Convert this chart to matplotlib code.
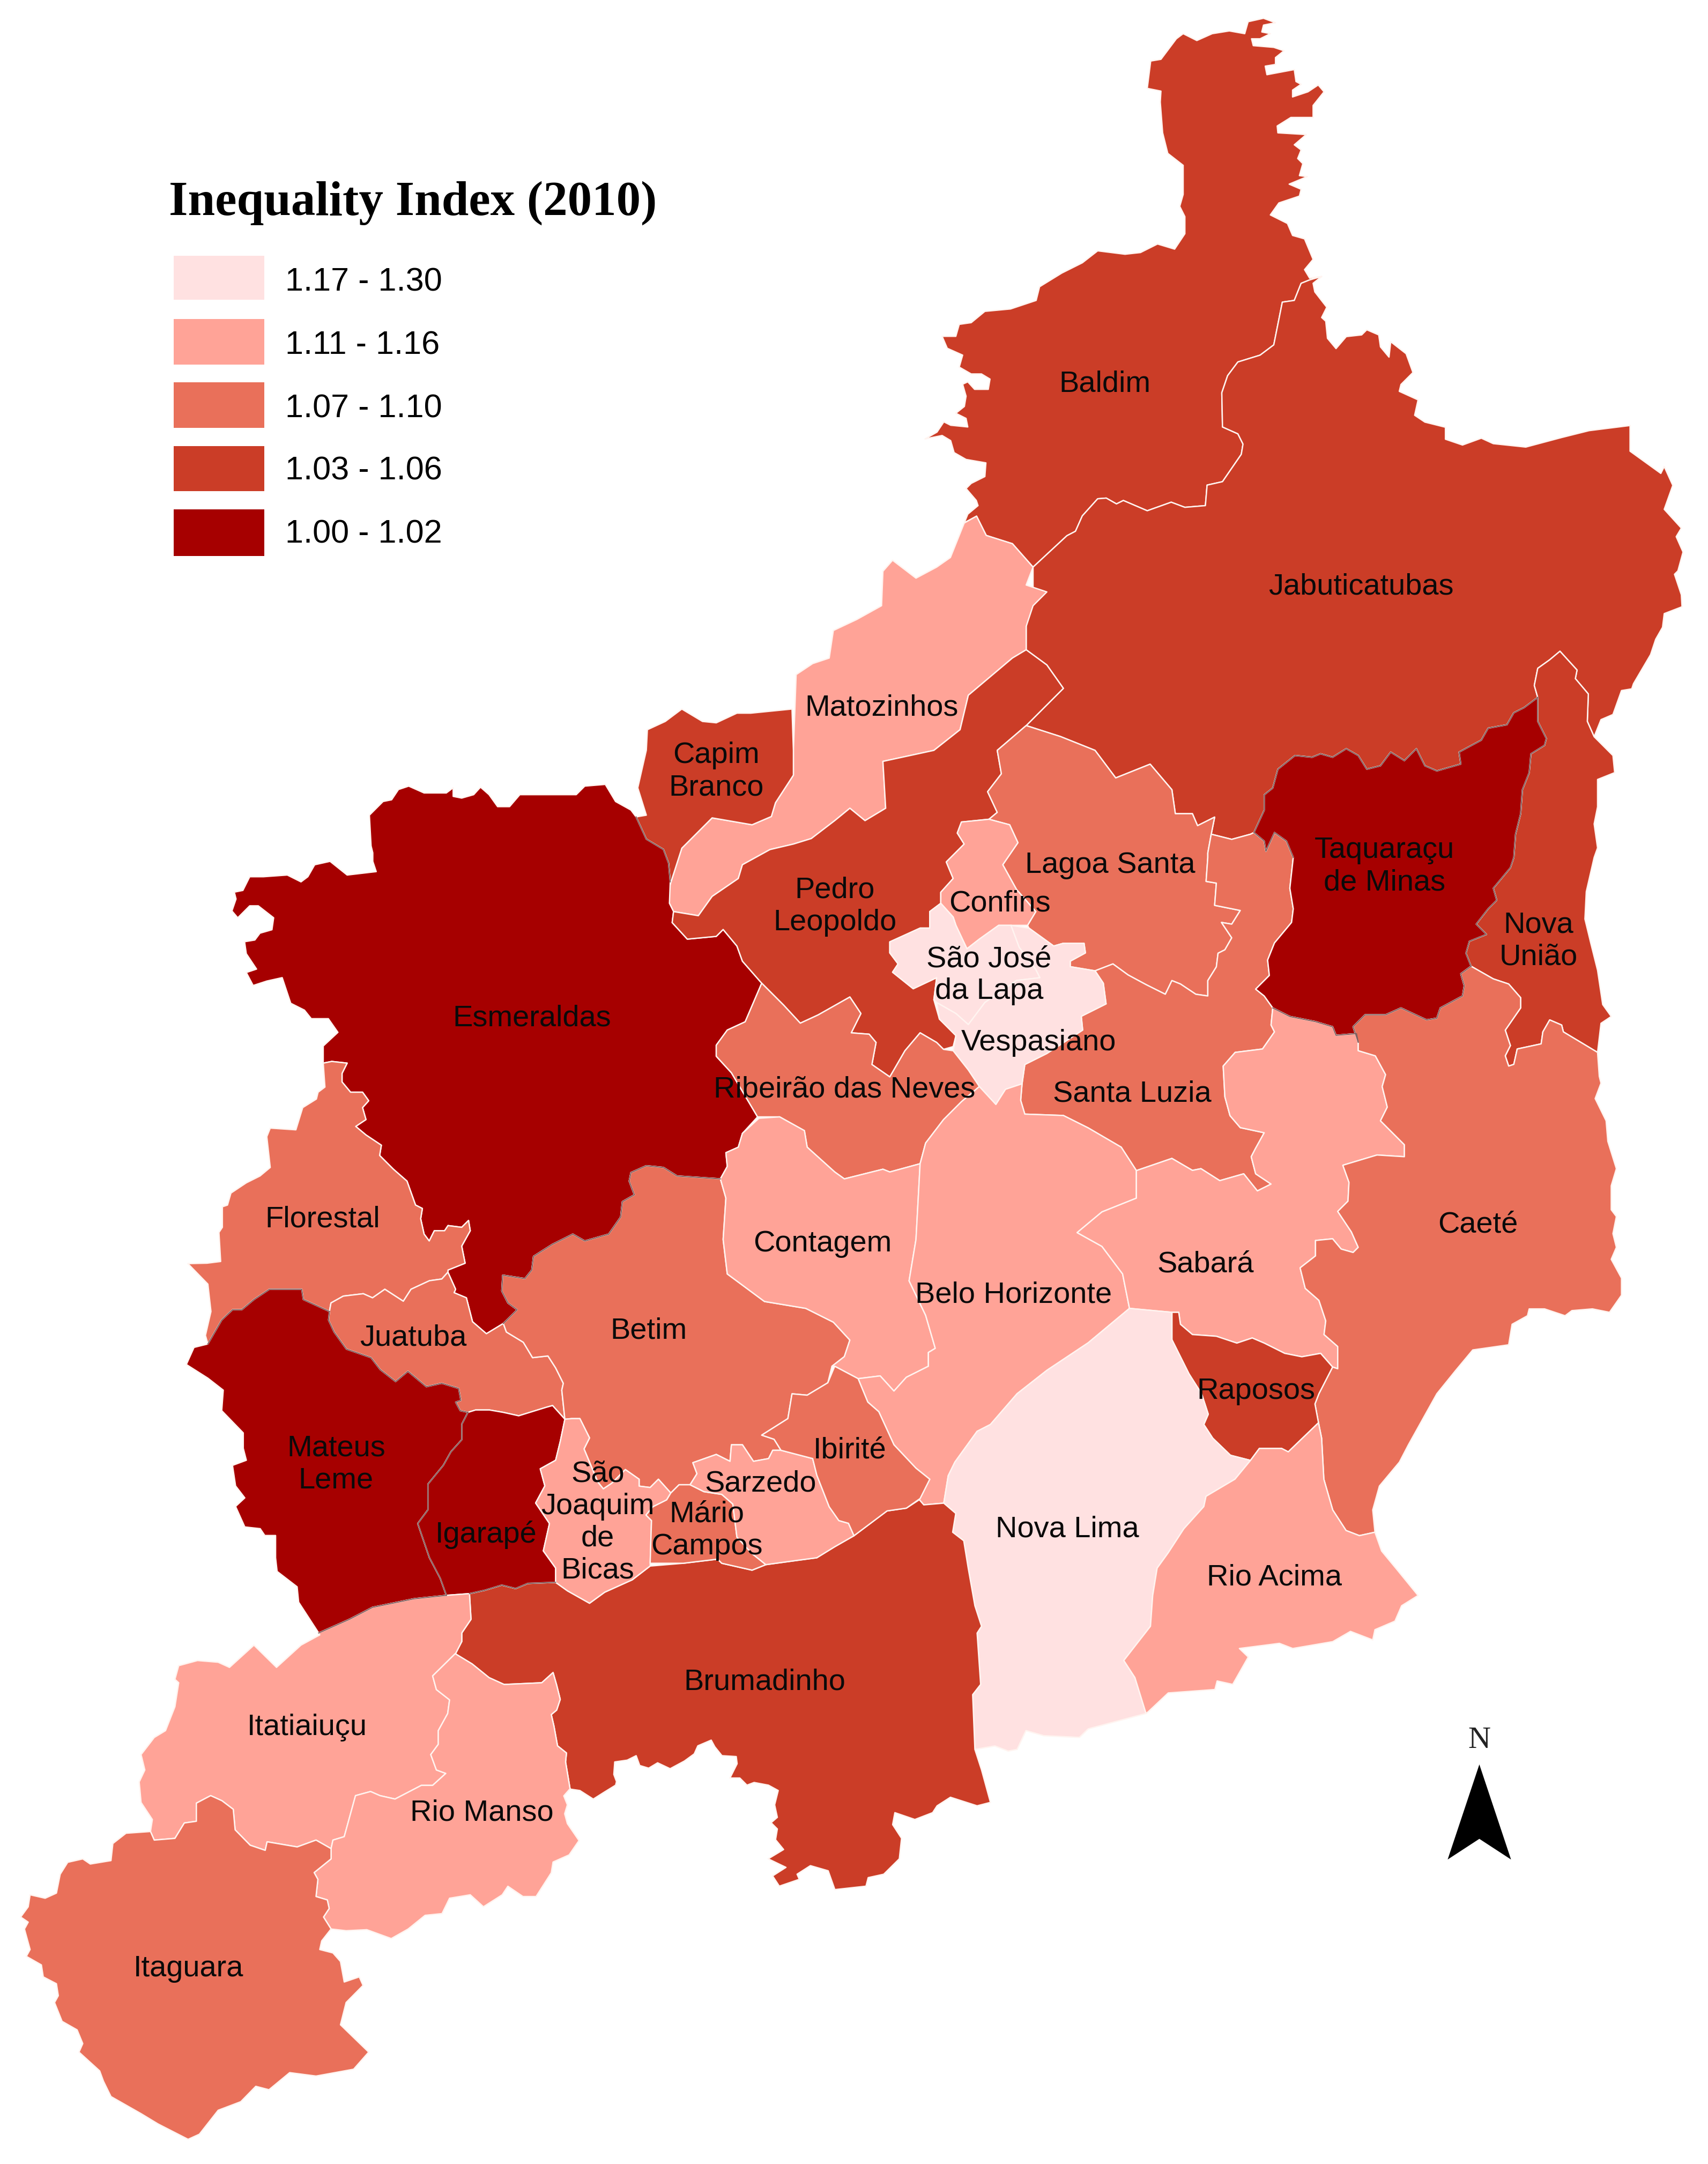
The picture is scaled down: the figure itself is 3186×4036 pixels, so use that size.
#!/usr/bin/env python3
import matplotlib
matplotlib.use("Agg")
import matplotlib.pyplot as plt
from matplotlib.patches import Polygon, Rectangle

# The map is in units of a 1240 wide sketch of the picture (x right, y down).
SCALE = 3186 / 1240


def crop(origin, pts):
    x0, y0, sx, sy = origin
    return [((x0 + a / sx) / SCALE, (y0 + b / sy) / SCALE) for a, b in pts]


def rev(arc):
    return arc[::-1]


A = (1700, 0, 1.568, 1.568)
B = (2186, 600, 1.568, 1.568)
C = (300, 1400, 1.568, 1.568)
D = (0, 3037, 1.425, 1.568)
E = (2186, 1600, 1.568, 1.568)
F = (1350, 2600, 1.206, 1.568)
G = (250, 2300, 1.742, 1.568)
H = (1000, 3000, 3.0, 3.0)

# shared border arcs
BALDIM_COAST = crop(A, [(155,1530),(165,1505),(195,1480),(190,1465),(160,1430),(175,1415),(215,1395),(218,1355),(160,1345),(125,1325),(115,1290),(90,1275),(40,1285),(75,1265),(95,1235),(115,1245),(165,1250),(160,1225),(130,1210),(155,1190),(160,1160),(150,1125),(165,1118),(185,1140),(225,1140),(230,1110),(205,1095),(175,1095),(140,1075),(150,1040),(105,1020),(90,985),(130,985),(140,950),(175,945),(215,912),(290,905),(365,880),(375,840),(440,800),(500,770),(545,735),(625,745),(670,740),(720,715),(770,730),(800,685),(800,635),(785,605),(795,570),(795,485),(750,450),(735,390),(728,300),(730,268),(690,260),(700,180),(730,175),(775,115),(795,100),(835,120),(880,100),(930,92),(975,100),(985,65),(1030,55),(1065,68),(1030,75),(1025,95),(1050,100),(1020,115),(995,115),(1000,135),(1060,140),(1090,150),(1065,170),(1065,190),(1035,195),(1040,220),(1120,205),(1125,240),(1140,248),(1115,265),(1115,285),(1160,270),(1190,250),(1207,270),(1175,310),(1175,345),(1110,345),(1070,370),(1072,390),(1155,395),(1120,425),(1140,440),(1130,465),(1145,480),(1135,515),(1158,518),(1105,540),(1140,555),(1135,575),(1075,595),(1050,630),(1100,655),(1115,690),(1150,700),(1175,760),(1150,790),(1165,815)])
BALDIM_JAB = crop(A, [(1200,810),(1165,820),(1140,830),(1120,880),(1085,885),(1070,960),(1060,1010),(1020,1040),(955,1060),(925,1100),(908,1150),(910,1250),(955,1270),(970,1300),(965,1330),(910,1410),(865,1420),(860,1480),(800,1485),(760,1470),(690,1495),(620,1465),(600,1475),(570,1458),(545,1460),(500,1510),(480,1555),(455,1568)]) + [(750,412)]
BALDIM_MATO = [(750,412),(735,395),(716,389),(709,375)]
JAB_COAST = crop(A, [(1200,810),(1175,830),(1180,855),(1215,900),(1200,930)]) + crop(B, [(450,0),(455,50),(480,80),(510,45),(555,40),(570,25),(605,40),(610,75),(635,105),(640,60),(685,95),(705,150),(670,185),(665,205),(720,230),(710,275),(740,295),(800,310),(800,345),(850,362),(905,342),(940,358),(1035,368),(1140,340),(1220,320),(1340,305),(1340,380),(1430,445),(1440,425),(1465,480),(1440,550),(1490,605),(1475,630),(1495,675),(1480,730),(1470,740),(1490,800),(1492,835),(1440,855),(1435,895),(1415,930),(1400,975),(1350,1060),(1345,1075),(1315,1080),(1290,1150),(1255,1165),(1235,1215)])
NOVA_JAB = crop(B, [(1235,1215),(1215,1170),(1218,1090),(1180,1045),(1185,1020),(1135,965),(1105,990),(1070,1015),(1060,1065),(1070,1100)])
TAQ_NORTH = crop(B, [(1070,1100),(1030,1130),(1000,1145),(980,1180),(925,1190),(905,1225),(840,1260),(845,1295),(775,1315),(740,1300),(715,1250),(680,1285),(640,1260),(610,1300),(570,1310),(545,1270),(510,1250),(470,1275),(435,1265),(410,1275),(360,1270),(310,1310),(295,1365),(270,1385),(270,1430),(240,1495)])
TAQ_WEST = crop(B, [(240,1495),(270,1520),(275,1550),(300,1495),(335,1520),(355,1568)]) + crop(E, [(345,90),(355,150),(350,190),(300,250),(280,300),(285,345),(245,385),(270,405),(295,440)])
TAQ_SOUTH = crop(E, [(295,440),(345,465),(420,480),(470,495),(480,520),(540,515),(545,540)])
TAQ_CAETE = crop(E, [(545,540),(530,495),(565,460),(625,460),(670,440),(745,475),(775,470),(785,440),(850,405),(855,375),(845,340),(875,318)])
TAQ_NOVA = crop(E, [(875,318),(860,280),(870,245),(920,225),(890,195),(925,150),(950,125),(940,90),(990,30),(1000,0)]) + crop(B, [(1005,1500),(1020,1440),(1025,1370),(1045,1320),(1050,1265),(1090,1240),(1095,1220),(1070,1170),(1070,1100)])
NOVA_CAETE = crop(E, [(875,318),(940,355),(985,370),(1020,410),(1020,440),(975,505),(990,550),(975,580),(985,610),(1000,605),(1010,560),(1080,545),(1085,510),(1105,475),(1140,490),(1145,510),(1245,570)])
NOVA_EAST = crop(B, [(1235,1215),(1290,1270),(1295,1320),(1245,1340),(1245,1420),(1235,1470),(1245,1540),(1235,1568)]) + crop(E, [(1212,100),(1208,180),(1225,250),(1245,330),(1260,430),(1285,465),(1255,485),(1245,570)])
CAETE_EAST = crop(E, [(1245,570),(1250,640),(1255,660),(1238,705),(1270,770),(1275,830),(1300,910),(1285,960),(1285,1030),(1300,1050),(1290,1100),(1300,1140),(1285,1175),(1315,1230),(1315,1280),(1280,1330),(1230,1320),(1170,1325),(1150,1340),(1090,1320),(1045,1320),(1040,1340),(995,1365),(985,1425),(880,1440),(830,1500),(775,1568)]) + crop(F, [(1540,150),(1520,200),(1475,270),(1460,340),(1465,405)])
CAETE_RIOACIMA = crop(F, [(1465,405),(1430,415),(1400,400),(1370,340),(1350,250),(1345,130),(1338,85)])
SABARA_CAETE = crop(E, [(545,540),(545,565),(595,580),(625,635),(615,670),(630,730),(610,770),(680,840),(680,875),(600,870),(500,900),(518,950),(515,1005),(485,1035),(525,1095),(545,1140),(530,1155),(495,1145),(470,1115),(420,1120),(420,1165),(375,1200),(390,1260),(430,1295),(450,1355),(445,1395),(485,1430),(485,1495)])
SABARA_RAPOSOS = crop(E, [(470,1490),(435,1450),(380,1460),(330,1450),(270,1420),(235,1405),(190,1420),(130,1400),(60,1395),(25,1365),(20,1330),(0,1330)])
RAPOSOS_EAST = crop(F, [(1338,85),(1330,30)]) + crop(E, [(430,1568),(470,1490)])
RAPOSOS_WEST = crop(E, [(0,1330),(0,1410),(50,1510)]) + crop(F, [(1075,0),(1090,60),(1080,90),(1100,130),(1140,180),(1185,195)])
RAPOSOS_RIOACIMA = crop(F, [(1185,195),(1205,160),(1255,160),(1270,170),(1338,85)])
SABARA_SL = crop(E, [(295,440),(290,490),(300,510),(265,560),(185,570),(150,610),(155,700),(170,755),(200,790),(270,805),(245,850),(232,875),(245,925),(290,955),(250,975),(210,925),(140,945),(85,910),(60,915),(0,880)])
SL_JAB = crop(B, [(240,1495),(230,1500),(175,1515),(115,1500)])
LAGOA_JAB = crop(B, [(115,1500),(125,1450),(75,1475),(60,1440),(10,1440),(0,1370)])
LAGOA_NW = [(745,527),(770,535),(795,545),(810,565),(835,555)] + crop(B, [(0,1370)])
LAGOA_SL = crop(B, [(115,1500),(105,1555)]) + crop(E, [(105,0),(100,70),(130,75),(125,140),(200,155),(175,195),(145,190),(175,235),(155,270),(135,280),(130,320),(105,360),(105,405),(70,400),(25,370),(0,360)])

NLIMA_BH = [(820,950),(790,975),(760,995)] + crop(F, [(660,0),(640,30),(600,90),(570,110),(520,200),(505,240),(495,320)])
NLIMA_RA = crop(F, [(1185,195),(1150,250),(1085,300),(1080,330),(1035,395),(1000,465),(975,510),(965,590),(960,680),(930,730),(900,780),(925,830),(950,935)])
NLIMA_SOUTH = crop(F, [(950,935),(820,980),(800,1005),(720,1000),(680,985),(660,1040),(640,1045),(610,1030),(565,1040)])
BRUM_NLIMA = crop(F, [(495,320),(522,350),(515,405),(540,430),(550,510),(565,620),(580,680),(570,700),(578,850),(560,880),(565,1040)])
RA_COAST = crop(F, [(1465,405),(1480,460),(1515,515),(1562,590),(1525,620),(1510,665),(1465,690),(1460,720),(1410,695),(1370,725),(1280,745),(1250,730),(1160,745),(1180,770),(1145,850),(1110,840),(1105,865),(1000,875),(955,930)])
BRUM_SOUTH_F = crop(F, [(565,1040),(580,1100),(600,1195),(570,1205),(510,1180),(480,1205),(470,1225),(430,1245),(385,1225),(380,1260),(400,1300),(395,1360),(360,1405),(325,1415),(320,1440),(250,1450),(235,1395),(195,1380),(165,1405),(170,1420),(125,1440),(110,1410),(140,1385),(100,1360)])
BRUM_SOUTH_H = crop(H, [(190,1012),(245,1020),(320,1068),(380,1030),(445,990),(450,970),(435,930),(440,860),(510,850),(560,825),(580,880),(630,895),(680,865),(750,898),(830,855),(885,815),(905,770),(980,738),(1000,775),(1040,825),(1120,830),(1125,870),(1085,950),(1140,950),(1180,990),(1220,975),(1300,990),(1355,1020),(1335,1100),(1350,1170),(1315,1200),(1350,1235),(1340,1295),(1385,1350)])

ESM_CAPIM = crop(C, [(1490,385),(1485,330),(1470,290),(1420,260),(1390,195)])
ESM_COAST = crop(C, [(1390,195),(1375,175),(1330,150),(1300,100),(1240,105),(1215,130),(1090,130),(1050,130),(1020,165),(985,165),(960,130),(935,108),(915,130),(880,140),(855,135),(855,110),(835,125),(770,125),(725,105),(695,115),(675,145),(650,150),(610,190),(615,280),(620,300),(620,325),(630,355),(545,365),(520,345),(495,325),(450,335),(430,370),(410,385),(370,365),(300,370),(260,370),(240,410),(215,415),(220,435),(208,470),(225,490),(260,455),(285,455),(330,490),(325,525),(290,535),(275,555),(245,560),(250,595),(280,640),(250,650),(270,688),(310,675),(355,665),(365,695),(380,740),(420,760),(440,785),(490,785),(518,825),(475,865),(475,915)])
ESM_FLOR = crop(C, [(475,915),(500,910),(545,915),(530,945),(530,970),(555,1000),(590,1000),(608,1025),(590,1045),(600,1080),(570,1100),(600,1125),(645,1155),(640,1185),(680,1225),(720,1260),(745,1330),(765,1340),(760,1370),(770,1415),(785,1435),(800,1405),(830,1405),(840,1390),(880,1395),(900,1375),(905,1405),(880,1450),(890,1500),(840,1520)])
ESM_JUA = crop(G, [(1020,115),(1045,165),(1040,175),(1080,190),(1100,260),(1145,295),(1200,265)])
ESM_BETIM = [(523,856)] + crop(C, [(1510,1245),(1470,1220),(1420,1215),(1375,1235),(1370,1260),(1385,1300),(1350,1320),(1345,1365),(1310,1415),(1240,1435),(1205,1415),(1145,1445),(1090,1480),(1085,1520),(1065,1545),(1000,1535)]) + crop(G, [(1195,170),(1215,205),(1245,225),(1200,265)])
ESM_EAST = [(523,856),(528,847),(527,837),(536,833),(539,823),(550,811),(531,779),(520,767),(520,759),(528,748),(541,742),(553,714),(539,698),(535,687),(525,675),(520,680),(499,682),(488,670),(489,662),(486,656)]
BET_JUA = crop(G, [(1200,265),(1210,290),(1265,320),(1295,365),(1345,360),(1370,395),(1395,440),(1390,460),(1400,545)])
FLOR_JUA = crop(G, [(1020,115),(1000,135),(960,140),(900,165),(875,200),(815,165),(775,190),(745,178),(680,185),(640,205),(635,230)])
FLOR_MAT = crop(G, [(635,230),(550,195),(545,165),(440,165),(390,195),(350,225),(320,225),(285,255),(240,325)])
FLOR_COAST = crop(G, [(240,325),(232,300),(250,230),(240,150),(175,90)]) + crop(C, [(135,1500),(175,1495),(170,1410),(180,1395),(180,1335),(195,1330),(205,1295),(250,1265),(290,1245),(320,1220),(310,1130),(320,1105),(395,1110),(415,1045),(455,1020),(460,1000),(480,985),(475,915)])
JUA_IGA = crop(G, [(1400,545),(1360,505),(1340,510),(1250,535),(1200,525),(1155,518),(1110,518),(1085,525)])
JUA_MAT = crop(G, [(1085,525),(1060,520),(1045,495),(1062,490),(1055,455),(1000,440),(950,450),(890,405),(850,435),(800,400),(770,365),(690,340),(650,290),(632,255),(635,230)])
MAT_COAST = crop(G, [(240,325),(195,335),(170,385),(240,425),(290,460),(285,520),(355,585),(355,630),(365,665),(320,680),(330,740),(360,775),(330,800),(360,860),(410,865),(425,885),(460,885),(460,950),(465,990),(530,1035),(535,1080),(600,1170)])
MAT_ITA = crop(G, [(600,1170),(700,1130),(775,1095),(910,1070),(1015,1060)])
IGA_MAT = crop(G, [(1085,525),(1065,560),(1065,605),(1030,640),(1005,680),(955,735),(955,810),(922,850),(960,950),(995,1010),(1015,1060)])
IGA_SJ = crop(G, [(1400,545),(1385,610),(1370,665),(1320,690),(1335,740),(1305,790),(1350,850),(1330,930),(1370,980),(1370,1022)])
IGA_BRUM = crop(G, [(1090,1055),(1140,1045),(1195,1030),(1240,1040),(1280,1025),(1370,1022)])
BRUM_ITA = crop(G, [(1090,1055),(1095,1130),(1065,1170),(1065,1195),(1045,1230)])
ITA_RM = crop(D, [(1210,75),(1150,140),(1160,180),(1195,210),(1190,250),(1165,300),(1165,340),(1145,370),(1160,415),(1185,425),(1150,460),(1120,460),(1050,500),(1010,490),(985,478),(945,490),(935,530),(915,610),(885,620),(880,645)])
ITA_ITAG = crop(D, [(880,645),(840,620),(790,640),(710,625),(705,650),(665,635),(625,590),(620,530),(590,505),(560,490),(522,512),(522,565),(490,570),(465,615),(410,620),(400,595)])
ITA_COAST = crop(D, [(400,595),(405,560),(375,510),(370,450),(385,415),(375,370),(410,320),(440,300),(465,230),(475,160),(465,150),(475,110),(525,95),(580,100),(610,115),(675,50),(735,115),(800,50),(850,20)])
ITAG_COAST = crop(D, [(400,595),(335,600),(300,630),(295,680),(240,690),(220,675),(180,685),(160,720),(150,775),(120,790),(80,780),(75,815),(55,845),(75,860),(65,880),(80,940),(70,960),(110,985),(115,1020),(150,1040),(155,1075),(145,1095),(165,1150),(205,1175),(220,1215),(210,1240),(265,1295),(275,1325),(295,1370),(375,1420),(420,1450),(500,1495),(530,1480),(580,1410),(640,1385),(680,1340),(715,1350),(770,1300),(840,1310),(940,1290),(980,1240),(905,1160),(920,1095),(965,1045),(955,1020),(915,1035),(905,975),(885,950),(850,940),(855,915),(880,880)])
RM_ITAG = crop(D, [(880,880),(860,845),(875,820),(870,795),(840,785),(845,735),(835,715),(880,675),(880,645)])
RM_BRUM = crop(D, [(1210,75),(1255,105),(1300,145),(1340,165),(1440,160)]) + crop(H, [(95,360),(115,430),(135,510),(115,570),(85,595),(100,660),(120,770),(170,810),(165,860),(190,1010)])
RM_COAST = crop(H, [(190,1010),(155,1050),(175,1100),(160,1150),(175,1205),(240,1300),(185,1380),(95,1420),(85,1480)]) + crop(D, [(1425,785),(1390,785),(1350,755),(1335,780),(1285,815),(1250,780),(1195,790),(1175,835),(1130,840),(1085,880),(1040,908),(975,882),(920,885),(880,880)])

# municipality outlines built from the arcs above
BALDIM = BALDIM_COAST + BALDIM_JAB + BALDIM_MATO
JABUTICATUBAS = rev(BALDIM_JAB) + JAB_COAST + NOVA_JAB + TAQ_NORTH + SL_JAB + LAGOA_JAB + rev(LAGOA_NW) + [(752,520),(772,500),(760,483),(745,472),(745,455),(750,430)]
TAQUARACU = TAQ_NORTH + TAQ_WEST + TAQ_SOUTH + TAQ_CAETE + TAQ_NOVA
NOVA_UNIAO = rev(TAQ_NOVA) + NOVA_CAETE + rev(NOVA_EAST) + NOVA_JAB
CAETE = TAQ_CAETE + NOVA_CAETE + CAETE_EAST + CAETE_RIOACIMA + RAPOSOS_EAST + rev(SABARA_CAETE)
SABARA = TAQ_SOUTH + SABARA_CAETE + SABARA_RAPOSOS + [(820,950),(815,925),(800,905),(782,895),(800,880),(825,870),(825,850)] + rev(SABARA_SL)
RAPOSOS = SABARA_RAPOSOS + RAPOSOS_WEST + RAPOSOS_RIOACIMA + RAPOSOS_EAST
NOVA_LIMA = [(820,950)] + RAPOSOS_WEST + NLIMA_RA + NLIMA_SOUTH + rev(BRUM_NLIMA) + rev(NLIMA_BH)
RIO_ACIMA = RAPOSOS_RIOACIMA + rev(CAETE_RIOACIMA) + RA_COAST + rev(NLIMA_RA)
LAGOA_SANTA = LAGOA_NW + rev(LAGOA_JAB) + LAGOA_SL + [(846,722),(832,715),(819,708),(808,700),(795,705),(777,702),(777,698),(788,692),(787,685),(772,685),(765,687),(747,674),(746,672),(752,662),(738,646),(728,628),(739,612),(733,599),(718,595),(724,590),(717,575),(727,562),(724,545)]
SANTA_LUZIA = [(795,705),(808,700),(819,708),(832,715),(846,722)] + rev(LAGOA_SL) + rev(SL_JAB) + TAQ_WEST + SABARA_SL + [(825,850),(814,833),(790,819),(772,810),(744,809),(741,799),(742,787),(744,773),(760,765),(786,748),(785,738),(803,729),(801,714)]
MATOZINHOS = rev(BALDIM_MATO) + [(745,425),(760,430),(750,440),(745,455),(745,472),(735,478),(703,505),(697,530),(678,545),(641,553),(643,587),(628,596),(617,587),(606,596),(589,609),(576,613),(559,617),(539,628),(536,638),(517,651),(507,665),(489,662),(486,656),(486,644),(495,616),(517,594),(546,599),(560,593),(563,583),(576,563),(576,545),(578,490),(590,482),(602,478),(605,458),(622,450),(640,440),(641,415),(648,407),(665,420),(680,412),(690,405),(700,380)]
CAPIM_BRANCO = [(470,530),(483,524),(495,515),(510,524),(520,525),(535,518),(545,518),(575,515),(576,545),(576,563),(563,583),(560,593),(546,599),(517,594),(495,616),(486,644)] + ESM_CAPIM + crop(C, [(1420,190),(1395,110),(1420,0)])
PEDRO_LEOPOLDO = [(745,472),(760,483),(772,500),(752,520),(745,527),(724,545),(727,562),(717,575),(724,590),(718,595),(698,597),(695,605),(700,613),(687,626),(692,638),(683,648),(683,656),(675,662),(675,674),(668,674),(646,684),(646,692),(652,700),(648,706),(663,718),(680,710),(678,726),(682,740),(694,752),(692,760),(685,762),(680,757),(668,750),(657,763),(646,782),(633,773),(636,757),(631,751),(618,750),(625,736),(617,724),(594,737),(581,743),(569,730),(553,714),(539,698),(535,687),(525,675),(520,680),(499,682),(488,670),(489,662),(507,665),(517,651),(536,638),(539,628),(559,617),(576,613),(589,609),(606,596),(617,587),(628,596),(643,587),(641,553),(678,545),(697,530),(703,505),(735,478)]
CONFINS = [(698,597),(718,595),(733,599),(739,612),(728,628),(738,646),(752,662),(746,672),(734,672),(725,672),(711,682),(702,689),(694,672),(692,666),(683,656),(683,648),(692,638),(687,626),(700,613),(695,605)]
SAO_JOSE = [(683,656),(675,662),(675,674),(668,674),(646,684),(646,692),(652,700),(648,706),(663,718),(680,710),(678,726),(680,728),(694,736),(703,744),(715,728),(738,712),(755,710),(752,704),(740,688),(734,672),(725,672),(711,682),(702,689),(694,672),(692,666)]
VESPASIANO = [(734,672),(740,688),(752,704),(755,710),(738,712),(715,728),(703,744),(694,736),(680,728),(682,740),(694,752),(692,763),(703,777),(711,789),(723,802),(730,791),(742,787),(744,773),(760,765),(786,748),(785,738),(803,729),(801,714),(795,705),(777,702),(777,698),(788,692),(787,685),(772,685),(765,687),(747,674)]
ESMERALDAS = ESM_CAPIM + ESM_COAST + ESM_FLOR + ESM_JUA + rev(ESM_BETIM) + ESM_EAST
FLORESTAL = ESM_FLOR + FLOR_JUA + FLOR_MAT + FLOR_COAST
JUATUBA = ESM_JUA + BET_JUA + JUA_IGA + JUA_MAT + rev(FLOR_JUA)
MATEUS_LEME = FLOR_MAT + MAT_COAST + MAT_ITA + rev(IGA_MAT) + JUA_MAT
IGARAPE = rev(JUA_IGA) + IGA_SJ + rev(IGA_BRUM) + rev(IGA_MAT)
BETIM = [(523,856),(527,870),(525,900),(528,925),(555,945),(585,950),(605,960),(617,973),(613,985),(604,992),(601,1004),(586,1013),(575,1012),(572,1030),(553,1042),(562,1045),(567,1053),(561,1053),(558,1059),(547,1061),(539,1049),(531,1049),(530,1061),(520,1056),(503,1062),(506,1070),(501,1078),(493,1078),(487,1084),(478,1074),(472,1080),(464,1079),(464,1074),(454,1067),(444,1077),(438,1081),(434,1076),(424,1052),(428,1044),(421,1030),(415,1030)] + rev(BET_JUA) + rev(ESM_BETIM)
SAO_JOAQUIM = [(415,1030),(421,1030),(428,1044),(424,1052),(434,1076),(438,1081),(444,1077),(454,1067),(464,1074),(464,1079),(472,1080),(478,1074),(487,1084),(484,1089),(474,1094),(469,1100),(473,1104),(472,1137),(459,1147),(439,1156),(428,1164),(412,1155)] + rev(IGA_SJ)
MARIO_CAMPOS = [(501,1078),(493,1078),(487,1084),(484,1089),(474,1094),(469,1100),(473,1104),(472,1135),(496,1135),(521,1132),(524,1135),(546,1140),(556,1136),(546,1128),(535,1116),(532,1092),(524,1085),(511,1083)]
SARZEDO = [(503,1062),(520,1056),(530,1061),(531,1049),(539,1049),(547,1061),(558,1059),(561,1053),(567,1053),(590,1059),(593,1071),(602,1094),(609,1104),(616,1106),(620,1115),(606,1123),(593,1131),(578,1133),(556,1136),(546,1128),(535,1116),(532,1092),(524,1085),(511,1083),(501,1078),(506,1070)]
IBIRITE = [(606,992),(623,1001),(630,1018),(638,1025),(649,1049),(665,1066),(675,1074),(668,1088),(658,1095),(644,1097),(620,1115),(616,1106),(609,1104),(602,1094),(593,1071),(590,1059),(567,1053),(562,1045),(553,1042),(572,1030),(575,1012),(586,1013),(601,1004)]
CONTAGEM = [(551,812),(566,811),(584,821),(586,833),(606,851),(613,856),(641,849),(646,851),(668,845),(665,900),(660,930),(672,955),(679,979),(674,982),(674,992),(658,1000),(649,1010),(639,999),(623,1001),(606,992),(604,992),(613,985),(617,973),(605,960),(585,950),(555,945),(528,925),(525,900),(527,870),(523,856),(528,847),(527,837),(536,833),(539,823)]
RIBEIRAO = [(711,789),(703,777),(692,763),(685,762),(680,757),(668,750),(657,763),(646,782),(633,773),(636,757),(631,751),(618,750),(625,736),(617,724),(594,737),(581,743),(569,730),(553,714),(541,742),(528,748),(520,759),(520,767),(531,779),(550,811),(566,811),(584,821),(586,833),(606,851),(613,856),(641,849),(646,851),(668,845),(672,830),(685,813),(698,800)]
BELO_HORIZONTE = [(668,845),(672,830),(685,813),(698,800),(711,789),(723,802),(730,791),(742,787),(741,799),(744,809),(772,810),(790,819),(814,833),(825,850),(825,870),(800,880),(782,895),(800,905),(815,925)] + NLIMA_BH + crop(F, [(450,325),(440,310)]) + [(675,1074),(665,1066),(649,1049),(638,1025),(630,1018),(623,1001),(639,999),(649,1010),(658,1000),(674,992),(674,982),(679,979),(672,955),(660,930),(665,900)]
BRUMADINHO = crop(F, [(440,310),(450,325)]) + BRUM_NLIMA + BRUM_SOUTH_F + rev(BRUM_SOUTH_H) + rev(RM_BRUM) + rev(BRUM_ITA) + IGA_BRUM + [(412,1155),(428,1164),(439,1156),(459,1147),(472,1137),(496,1135),(521,1132),(524,1135),(546,1140),(556,1136),(578,1133),(593,1131),(606,1123),(620,1115),(644,1097),(658,1095)]
ITATIAIUCU = MAT_ITA + BRUM_ITA + ITA_RM + ITA_ITAG + ITA_COAST
RIO_MANSO = RM_BRUM + RM_COAST + RM_ITAG + rev(ITA_RM)
ITAGUARA = ITA_ITAG + ITAG_COAST + RM_ITAG

# 0 = 1.17-1.30 ... 4 = 1.00-1.02
shapes = [
    (BALDIM, 3), (JABUTICATUBAS, 3), (MATOZINHOS, 1), (CAPIM_BRANCO, 3), (ESMERALDAS, 4),
    (PEDRO_LEOPOLDO, 3), (LAGOA_SANTA, 2), (SANTA_LUZIA, 2), (CONFINS, 1), (SAO_JOSE, 0),
    (VESPASIANO, 0), (NOVA_UNIAO, 3), (TAQUARACU, 4), (FLORESTAL, 2), (JUATUBA, 2),
    (MATEUS_LEME, 4), (BETIM, 2), (RIBEIRAO, 2), (CONTAGEM, 1), (BELO_HORIZONTE, 1),
    (SABARA, 1), (CAETE, 2), (RAPOSOS, 3), (NOVA_LIMA, 0), (RIO_ACIMA, 1), (BRUMADINHO, 3),
    (IGARAPE, 4), (SAO_JOAQUIM, 1), (MARIO_CAMPOS, 2), (SARZEDO, 1), (IBIRITE, 2),
    (ITATIAIUCU, 1), (RIO_MANSO, 1), (ITAGUARA, 2),
]
# borders of the darkest class come out grey instead of white
grey_arcs = [TAQ_NORTH, TAQ_WEST[:6], TAQ_SOUTH, TAQ_CAETE, TAQ_NOVA, FLOR_MAT, JUA_MAT, IGA_MAT, MAT_ITA,
             ESM_BETIM, ESM_CAPIM, IGA_BRUM]

class_labels = ["1.17 - 1.30", "1.11 - 1.16", "1.07 - 1.10", "1.03 - 1.06", "1.00 - 1.02"]
class_colors = ["#FFE1E1", "#FFA397", "#E9705A", "#CB3D27", "#A60000"]

names = ["Baldim", "Jabuticatubas", "Matozinhos", "Capim\nBranco", "Pedro\nLeopoldo", "Lagoa Santa",
         "Confins", "Taquaraçu\nde Minas", "Nova\nUnião", "São José\nda Lapa", "Vespasiano", "Esmeraldas",
         "Ribeirão das Neves", "Santa Luzia", "Florestal", "Contagem", "Caeté", "Sabará", "Belo Horizonte",
         "Betim", "Juatuba", "Raposos", "Mateus\nLeme", "Ibirité", "São\nJoaquim\nde\nBicas", "Sarzedo",
         "Mário\nCampos", "Igarapé", "Nova Lima", "Rio Acima", "Brumadinho", "Itatiaiuçu", "Rio Manso", "Itaguara"]
name_x = [802, 988, 640, 520, 606, 806, 726, 1005, 1117, 718, 754, 386, 613, 822, 234, 597, 1073, 875, 736,
          471, 300, 912, 244, 617, 434, 552, 513, 353, 775, 925, 555, 223, 350, 137]
name_y = [279, 426, 514, 560, 658, 628, 656, 629, 683, 708, 757, 739, 791, 794, 885, 903, 889, 918, 940,
          966, 971, 1010, 1063, 1053, 1105, 1077, 1111, 1114, 1110, 1145, 1221, 1254, 1316, 1429]

NORTH_ARROW = [(1074, 1281), (1097, 1350), (1074, 1335), (1051, 1350)]


def main() -> None:
    fig = plt.figure(figsize=(31.86, 40.37), dpi=100)
    ax = fig.add_axes([0, 0, 1, 1])
    ax.set_xlim(0, 1240)
    ax.set_ylim(1571, 0)
    ax.axis("off")

    for outline, cls in shapes:
        ax.add_patch(Polygon(outline, closed=True, facecolor=class_colors[cls], edgecolor="#FFF4F0",
                             linewidth=1.8, joinstyle="round"))

    for arc in grey_arcs:
        ax.plot([p[0] for p in arc], [p[1] for p in arc], color="#7E5F5F", lw=1.4, solid_joinstyle="round")

    for name, x, y in zip(names, name_x, name_y):
        ax.text(x, y, name, ha="center", va="center", ma="center", fontsize=40.3,
                family="Liberation Sans", color="#0A0A0A")

    # legend
    ax.text(122.5, 156, "Inequality Index (2010)", family="Liberation Serif", fontweight="bold",
            fontsize=65.5, ha="left", va="baseline", color="black")
    swatch_y = [186, 232, 278, 324, 370]
    swatch_h = [32, 33, 33, 33, 34]
    text_y = [205, 251, 297, 342, 388]
    for lab, col, y0, h, ty in zip(class_labels, class_colors, swatch_y, swatch_h, text_y):
        ax.add_patch(Rectangle((126, y0), 66, h, facecolor=col, edgecolor="none"))
        ax.text(207, ty, lab, family="Liberation Sans", fontsize=44, ha="left", va="center", color="black")

    # north arrow
    ax.add_patch(Polygon(NORTH_ARROW, closed=True, facecolor="black", edgecolor="none"))
    ax.text(1074, 1263, "N", family="Liberation Serif", fontsize=42, ha="center", va="center", color="#222222")

    fig.savefig("out.png", dpi=100, facecolor="white")
    plt.close(fig)


if __name__ == "__main__":
    main()
